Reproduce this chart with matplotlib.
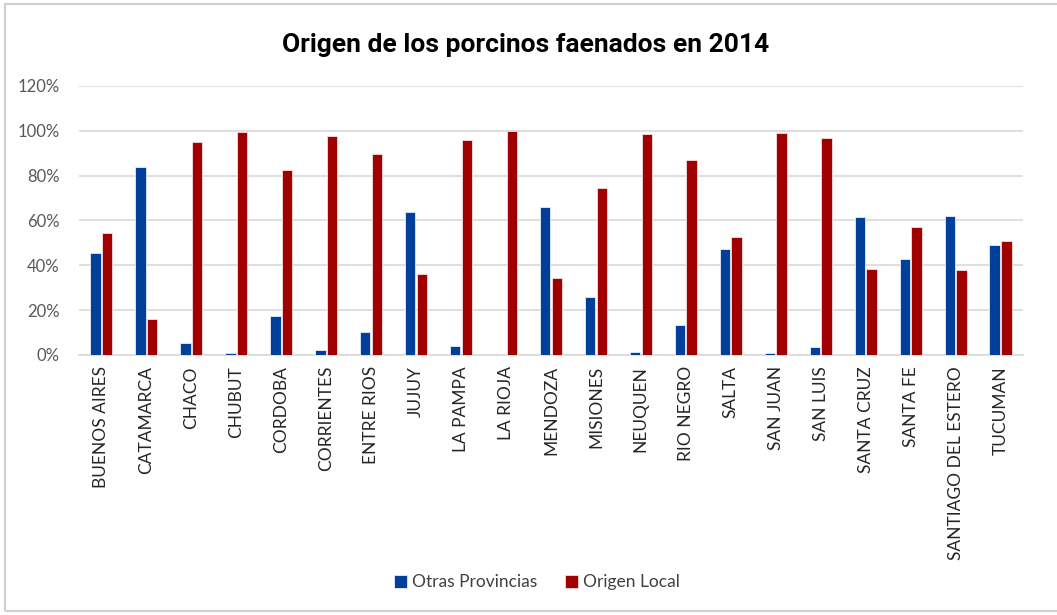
import matplotlib.pyplot as plt
import matplotlib.patches as patches
import numpy as np

# data (share of pigs slaughtered)
provincias = ["BUENOS AIRES", "CATAMARCA", "CHACO", "CHUBUT", "CORDOBA",
              "CORRIENTES", "ENTRE RIOS", "JUJUY", "LA PAMPA", "LA RIOJA",
              "MENDOZA", "MISIONES", "NEUQUEN", "RIO NEGRO", "SALTA",
              "SAN JUAN", "SAN LUIS", "SANTA CRUZ", "SANTA FE",
              "SANTIAGO DEL ESTERO", "TUCUMAN"]
otras_provincias = [45.4, 83.8, 5.2, 0.7, 17.4, 2.1, 10.4, 64.0, 4.0, 0.0,
                    65.8, 25.7, 1.5, 13.2, 47.2, 1.0, 3.4, 61.6, 43.0, 62.2, 49.1]
origen_local = [54.6, 16.2, 94.8, 99.3, 82.6, 97.9, 89.6, 36.0, 96.0, 100.0,
                34.2, 74.3, 98.5, 86.8, 52.8, 99.0, 96.6, 38.4, 57.0, 37.8, 50.9]
yticks = [0, 20, 40, 60, 80, 100, 120]

azul = "#003f9a"
rojo = "#a00000"

fig = plt.figure(figsize=(10.57, 6.15), dpi=100)
ax = fig.add_axes([0.0747, 0.4228, 0.8931, 0.4374])

x = np.arange(len(provincias))
w = 0.23
ax.bar(x - w / 2 - 0.015, otras_provincias, w, color=azul, edgecolor="#e8eef8",
       linewidth=0.6, label="Otras Provincias", zorder=3)
ax.bar(x + w / 2 + 0.015, origen_local, w, color=rojo, edgecolor="#f4e0e0",
       linewidth=0.6, label="Origen Local", zorder=3)

ax.set_xlim(-0.5, len(provincias) - 0.5)
ax.set_ylim(0, 120)
ax.set_yticks(yticks)
ax.set_yticklabels([f"{v}%" for v in yticks], fontsize=12, color="#595959",
                   family="Lato")
ax.set_xticks(x)
ax.set_xticklabels(provincias, rotation=90, fontsize=12.5, color="#262626",
                   family="Lato")
ax.tick_params(length=0)
ax.tick_params(axis="y", pad=14)
ax.tick_params(axis="x", pad=8)

ax.grid(axis="y", color="#d9d9d9", linewidth=1.2, zorder=0)
for s in ["top", "right", "left"]:
    ax.spines[s].set_visible(False)
ax.spines["bottom"].set_color("#d9d9d9")
ax.spines["bottom"].set_linewidth(1.2)

fig.text(0.497, 0.927, "Origen de los porcinos faenados en 2014", ha="center",
         va="center", fontsize=19, fontweight="bold", family="Roboto")

leg = fig.legend(loc="center", bbox_to_anchor=(0.508, 0.053), ncol=2, frameon=False,
                 prop={"family": "Lato", "size": 12.5}, handlelength=0.75,
                 handleheight=0.75, columnspacing=1.6, handletextpad=0.3)
for t in leg.get_texts():
    t.set_color("#404040")

# light frame around the chart area
fig.patches.append(patches.Rectangle((0.005, 0.006), 1.2, 0.988,
                                     transform=fig.transFigure, fill=False,
                                     edgecolor="#d0d0d0", linewidth=1.5))

fig.savefig("out.png", dpi=100)
